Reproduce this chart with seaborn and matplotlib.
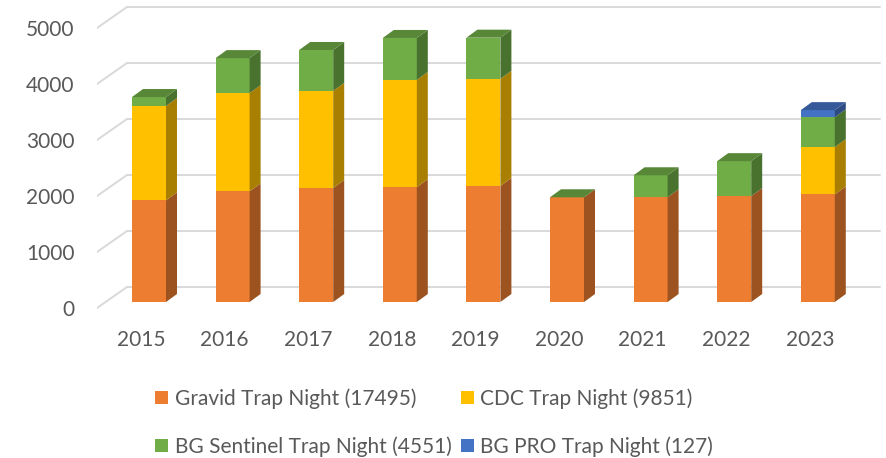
import numpy as np
import matplotlib
matplotlib.use("Agg")
import matplotlib.pyplot as plt
import matplotlib.colors as mcolors
from matplotlib.patches import Patch
from matplotlib.transforms import ScaledTranslation
import seaborn as sns

years = ["2015", "2016", "2017", "2018", "2019", "2020", "2021", "2022", "2023"]
gravid = [1815, 1975, 2035, 2050, 2070, 1870, 1870, 1890, 1920]
cdc = [1685, 1755, 1735, 1915, 1915, 0, 0, 0, 846]
bg_sentinel = [160, 625, 730, 750, 735, 0, 393, 625, 533]
bg_pro = [np.nan] * 8 + [127]

series_names = ["Gravid Trap Night (17495)", "CDC Trap Night (9851)",
                "BG Sentinel Trap Night (4551)", "BG PRO Trap Night (127)"]
colors = ["#ED7D31", "#FFC000", "#70AD47", "#4472C4"]
yticks = [0, 1000, 2000, 3000, 4000, 5000]

sns.set_theme(style="white")
plt.rcParams["font.family"] = ["Lato", "DejaVu Sans"]
text_color = "#595959"
grid_color = "#D9D9D9"

fig = plt.figure(figsize=(8.87, 4.58), dpi=100)
ax = fig.add_axes([97 / 887, 138 / 458, 790 / 887, 320 / 458])

# pixel -> data conversion for the fake 3d depth
px_x = 83.6   # pixels per category step
px_y = 0.056  # pixels per unit of value
def dx(p):
    return p / px_x
def dy(p):
    return p / px_y

bar_w = 34 / px_x
depth_x, depth_y = dx(11), dy(8)

series = [np.array(gravid, float), np.array(cdc, float),
          np.array(bg_sentinel, float), np.array(bg_pro, float)]
cum = np.nancumsum(np.vstack(series), axis=0)

# back wall + left wall grid
wall_l, wall_r = dx(127 - 149), dx(880 - 149)
front_l = dx(97 - 149)
for v in yticks:
    ax.plot([wall_l, wall_r], [v + dy(15), v + dy(15)], color=grid_color, lw=1.4, zorder=0)
    ax.plot([front_l, wall_l], [v - dy(6), v + dy(15)], color=grid_color, lw=1.4, zorder=0)

# front faces: tallest stack first so shorter ones cover
for k in range(len(series) - 1, -1, -1):
    sns.barplot(x=years, y=cum[k], color=colors[k], width=bar_w, saturation=1,
                linewidth=0, ax=ax, zorder=2)

def shade(c, f):
    r, g, b = mcolors.to_rgb(c)
    return (r * f, g * f, b * f)

for i in range(len(years)):
    bottom = 0
    top_color = colors[0]
    for k in range(len(series)):
        val = series[k][i]
        if np.isnan(val):
            continue
        top_color = colors[k]
        top = bottom + val
        if val > 0:
            xr = i + bar_w / 2
            ax.fill([xr, xr + depth_x, xr + depth_x, xr],
                    [bottom, bottom + depth_y, top + depth_y, top],
                    color=shade(colors[k], 0.66), lw=0, zorder=2)
        bottom = top
    xl, xr = i - bar_w / 2, i + bar_w / 2
    ax.fill([xl, xr, xr + depth_x, xl + depth_x],
            [bottom, bottom, bottom + depth_y, bottom + depth_y],
            color=shade(top_color, 0.78), lw=0, zorder=2)

ax.set_xlim(dx(97 - 149), dx(887 - 149))
ax.set_ylim(-dy(18), dy(302))
for s in ax.spines.values():
    s.set_visible(False)

ax.set_yticks(yticks)
ax.set_yticklabels([str(v) for v in yticks])
ax.set_xticks(range(len(years)))
ax.set_xticklabels(years)
ax.tick_params(axis="y", length=0, pad=16, labelsize=15, labelcolor=text_color)
ax.tick_params(axis="x", length=0, pad=7, labelsize=15, labelcolor=text_color)
ax.set_xlabel("")
ax.set_ylabel("")

off_y = ScaledTranslation(0, -6 / 100, fig.dpi_scale_trans)
for lab in ax.get_yticklabels():
    lab.set_transform(lab.get_transform() + off_y)
off_x = ScaledTranslation(-8 / 100, 0, fig.dpi_scale_trans)
for lab in ax.get_xticklabels():
    lab.set_transform(lab.get_transform() + off_x)

# legend is filled column by column, so order items to read row by row
order = [0, 2, 1, 3]
handles = [Patch(facecolor=colors[k], edgecolor="none") for k in order]
fig.legend(handles, [series_names[k] for k in order], ncol=2, loc="upper left",
           bbox_to_anchor=(145 / 887, 1 - 378 / 458), frameon=False,
           fontsize=15, labelcolor=text_color, handlelength=0.62, handleheight=0.6,
           handletextpad=0.3, columnspacing=0.45, labelspacing=1.3, borderpad=0)

fig.savefig("out.png", dpi=100)
